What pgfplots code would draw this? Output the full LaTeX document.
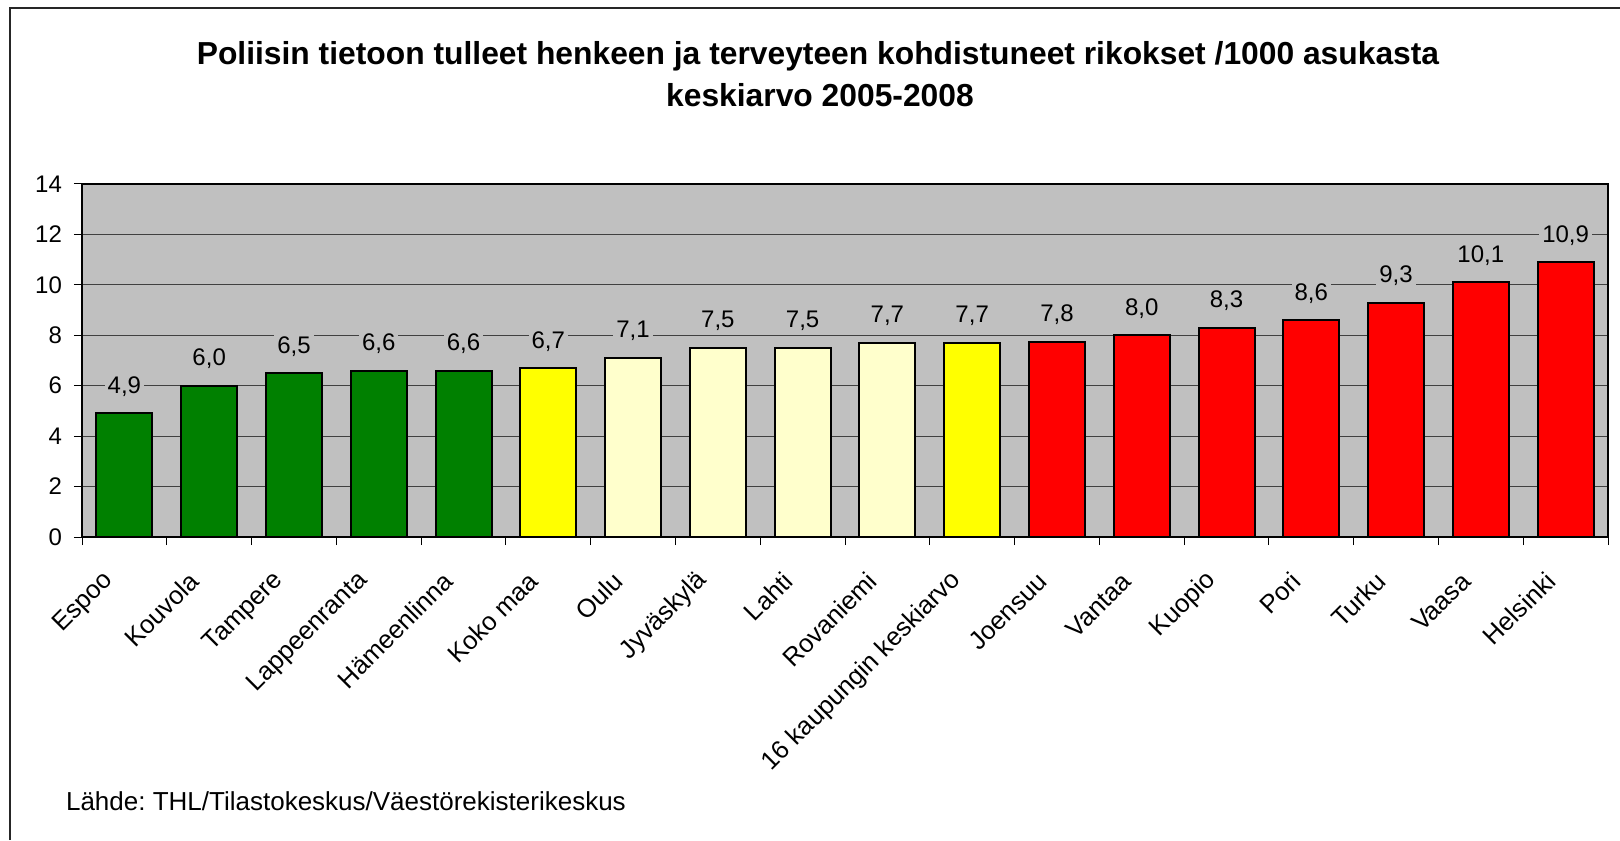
\documentclass[border=0pt]{standalone}
\usepackage{pgfplots}
\pgfplotsset{compat=1.18}
\usepackage{fontspec}
\setmainfont{Liberation Sans}
\frenchspacing
\definecolor{plotgray}{HTML}{C0C0C0}
\definecolor{xlgreen}{HTML}{008000}
\definecolor{xlyellow}{HTML}{FFFF00}
\definecolor{xllight}{HTML}{FFFFCC}
\definecolor{xlred}{HTML}{FF0000}
\begin{document}
\begin{tikzpicture}
\useasboundingbox (0,0) rectangle (810pt,420pt);
\draw[line width=0.8pt, black!85] (5pt,0) -- (5pt,416pt) -- (810pt,416pt);
\node[anchor=base, font=\fontsize{15.9}{18}\selectfont\bfseries] at (409pt,387.5pt) {Poliisin tietoon tulleet henkeen ja terveyteen kohdistuneet rikokset /1000 asukasta};
\node[anchor=base, font=\fontsize{15.9}{18}\selectfont\bfseries] at (410pt,366.5pt) {keskiarvo 2005-2008};
\node[anchor=base west, font=\fontsize{13}{15}\selectfont] at (29.5pt,15pt) {Lähde: THL/Tilastokeskus/Väestörekisterikeskus};
\begin{axis}[
  at={(41pt,151.5pt)}, anchor=south west,
  scale only axis, width=763pt, height=176.5pt,
  xmin=-0.5, xmax=17.5, ymin=0, ymax=14,
  ybar, bar width=28pt,
  axis background/.style={fill=plotgray},
  ymajorgrids, grid style={black!75, line width=0.5pt},
  axis line style={black, line width=0.6pt},
  tick align=outside, major tick length=4pt,
  tick style={black, line width=0.5pt},
  xtick pos=bottom, ytick pos=left,
  ytick={0,2,...,14},
  xtick={-0.5,0.5,...,17.5},
  x tick label as interval,
  xticklabels={Espoo,Kouvola,Tampere,Lappeenranta,Hämeenlinna,Koko maa,Oulu,Jyväskylä,Lahti,Rovaniemi,16 kaupungin keskiarvo,Joensuu,Vantaa,Kuopio,Pori,Turku,Vaasa,Helsinki},
  /pgf/number format/assume math mode=true,
  yticklabel style={font=\fontsize{12}{14}\selectfont, xshift=-2.5pt},
  xticklabel style={font=\fontsize{12.8}{15}\selectfont, rotate=45, anchor=east, xshift=-13pt, yshift=-6pt},
  nodes near coords={\pgfmathprintnumber[fixed,fixed zerofill,precision=1,use comma]{\pgfplotspointmeta}},
  every node near coord/.append style={font=\fontsize{12}{14}\selectfont, text=black, fill=plotgray, draw=none, inner sep=1.5pt, anchor=base, yshift=10pt},
]
\addplot[fill=xlgreen, draw=black, line width=1pt, bar shift=0pt] coordinates {(0,4.9) (1,6.0) (2,6.5) (3,6.6) (4,6.6)};
\addplot[fill=xlyellow, draw=black, line width=1pt, bar shift=0pt] coordinates {(5,6.7) (10,7.7)};
\addplot[fill=xllight, draw=black, line width=1pt, bar shift=0pt] coordinates {(6,7.1) (7,7.5) (8,7.5) (9,7.7)};
\addplot[fill=xlred, draw=black, line width=1pt, bar shift=0pt] coordinates {(11,7.75) (12,8.0) (13,8.3) (14,8.6) (15,9.3) (16,10.1) (17,10.9)};
\end{axis}
\end{tikzpicture}
\end{document}
